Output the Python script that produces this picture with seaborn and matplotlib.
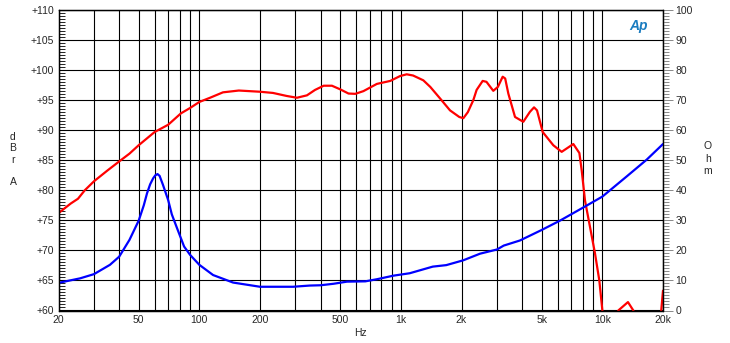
import numpy as np
import pandas as pd
import matplotlib
matplotlib.use("Agg")
import matplotlib.pyplot as plt
import seaborn as sns
from matplotlib.ticker import FixedLocator, MultipleLocator, NullFormatter

# Frequency response (dBr A, left axis)
spl_freq = [20, 23, 25, 27, 30, 35, 40, 45, 50, 60, 70, 81, 90, 100, 113, 131, 157,
            200, 232, 271, 305, 342, 375, 414, 455, 500, 550, 594, 652, 760, 886,
            990, 1069, 1150, 1293, 1400, 1564, 1754, 1950, 2043, 2150, 2289, 2377,
            2547, 2660, 2876, 3030, 3202, 3295, 3415, 3687, 4053, 4370, 4582, 4740,
            5058, 5708, 6284, 7178, 7691, 7900, 8202, 8685, 9195, 9660, 10010,
            10300, 11600, 12000, 13400, 14250, 14800, 19100, 19600, 20000]
spl_db = [76.2, 77.8, 78.6, 80.0, 81.5, 83.3, 84.8, 86.1, 87.5, 89.7, 90.9, 92.8, 93.7,
          94.7, 95.4, 96.3, 96.6, 96.4, 96.2, 95.7, 95.4, 95.8, 96.7, 97.4, 97.4, 96.8,
          96.1, 96.05, 96.5, 97.7, 98.2, 99.0, 99.3, 99.1, 98.3, 97.2, 95.3, 93.3, 92.2,
          92.0, 93.0, 95.0, 96.7, 98.2, 98.05, 96.55, 97.2, 98.9, 98.6, 96.1, 92.2, 91.4,
          93.05, 93.8, 93.3, 89.7, 87.5, 86.4, 87.7, 86.2, 83.3, 78.3, 73.9, 69.5, 65.0,
          59.9, 55.0, 55.0, 60.0, 61.4, 60.0, 55.0, 55.0, 60.0, 63.3]

# Impedance (Ohm, right axis)
imp_freq = [20, 25.6, 30, 36, 40, 45, 50, 53, 55, 57, 59, 60.5, 62, 63.5, 66, 70, 73, 77,
            84, 90, 100, 117, 147, 200, 292, 353, 400, 464, 540, 666, 760, 920, 1107,
            1440, 1680, 2040, 2470, 3000, 3240, 3900, 5000, 6160, 8200, 10000, 13200,
            16600, 20000]
imp_ohm = [9.2, 10.7, 12.1, 15.2, 17.9, 23.5, 29.9, 35.0, 39.0, 42.0, 44.0, 45.0, 45.4,
           44.8, 41.8, 36.8, 32.0, 27.9, 21.3, 18.5, 15.2, 11.8, 9.3, 7.9, 7.9, 8.3, 8.4,
           8.9, 9.6, 9.7, 10.4, 11.6, 12.4, 14.6, 15.1, 16.7, 18.9, 20.3, 21.6, 23.3,
           26.8, 29.9, 34.6, 37.9, 44.6, 50.2, 55.4]

x_ticks = [20, 50, 100, 200, 500, 1000, 2000, 5000, 10000, 20000]
x_labels = ["20", "50", "100", "200", "500", "1k", "2k", "5k", "10k", "20k"]
db_ticks = list(range(60, 111, 5))
ohm_ticks = list(range(0, 101, 10))

sns.set_style("white")
plt.rcParams["font.family"] = ["Liberation Sans", "DejaVu Sans"]

spl = pd.DataFrame({"freq": spl_freq, "db": spl_db})
imp = pd.DataFrame({"freq": imp_freq, "ohm": imp_ohm})

fig = plt.figure(figsize=(7.3, 3.43), dpi=100)
ax = fig.add_axes([58.5 / 730, 32.5 / 343, 604.5 / 730, 300.5 / 343])
ax2 = ax.twinx()

sns.lineplot(data=spl, x="freq", y="db", ax=ax, color="#ff0000", lw=1.6,
             sort=False, estimator=None)
sns.lineplot(data=imp, x="freq", y="ohm", ax=ax2, color="#0000ff", lw=1.6,
             sort=False, estimator=None)

ax.set_xscale("log")
ax.set_xlim(20, 20000)
ax.set_ylim(60, 110)
ax2.set_ylim(0, 100)

# x axis: labelled majors, grid at every 1-2-3...9 decade line
grid_x = [m * 10 ** d for d in range(1, 5) for m in range(1, 10) if 20 <= m * 10 ** d <= 20000]
ax.xaxis.set_major_locator(FixedLocator(x_ticks))
ax.set_xticklabels(x_labels)
ax.xaxis.set_minor_locator(FixedLocator(grid_x))
ax.xaxis.set_minor_formatter(NullFormatter())
ax.tick_params(axis="x", which="both", length=0, labelsize=7.5, pad=3)

ax.set_yticks(db_ticks)
ax.set_yticklabels([f"+{v}" for v in db_ticks])
ax.yaxis.set_minor_locator(MultipleLocator(0.5))
ax.tick_params(axis="y", which="major", length=0, labelsize=7.5, pad=3)
ax.tick_params(axis="y", which="minor", direction="in", length=4, width=0.7, color="#222222")

ax2.set_yticks(ohm_ticks)
ax2.yaxis.set_minor_locator(MultipleLocator(1))
ax2.tick_params(axis="y", which="major", direction="out", length=7, width=0.7,
                color="#888888", labelsize=7.5, pad=2)
ax2.tick_params(axis="y", which="minor", direction="out", length=4, width=0.7,
                color="#888888")

ax.grid(axis="x", which="both", color="black", lw=0.8)
ax.grid(axis="y", which="major", color="black", lw=0.8)
ax.set_axisbelow(True)
ax.set_xlabel("")
ax.set_ylabel("")
ax2.set_ylabel("")
for a in (ax, ax2):
    for s in a.spines.values():
        s.set_color("black")
        s.set_linewidth(0.9)

# axis captions as stacked letters
for ch, y in zip("dBrA", [137, 148, 160, 182]):
    fig.text(13 / 730, 1 - y / 343, ch, fontsize=7.5, ha="center", va="center")
for ch, y in zip("Ohm", [146, 159, 171]):
    fig.text(708 / 730, 1 - y / 343, ch, fontsize=7.5, ha="center", va="center")
fig.text(360 / 730, 1 - 333 / 343, "Hz", fontsize=7.5, ha="center", va="center")

# AP logo
ax.text(0.975, 0.97, "Ap", transform=ax.transAxes, fontsize=10, fontweight="bold",
        fontstyle="italic", color="#1b7cc0", ha="right", va="top")

fig.savefig("out.png", dpi=100, facecolor="white")
